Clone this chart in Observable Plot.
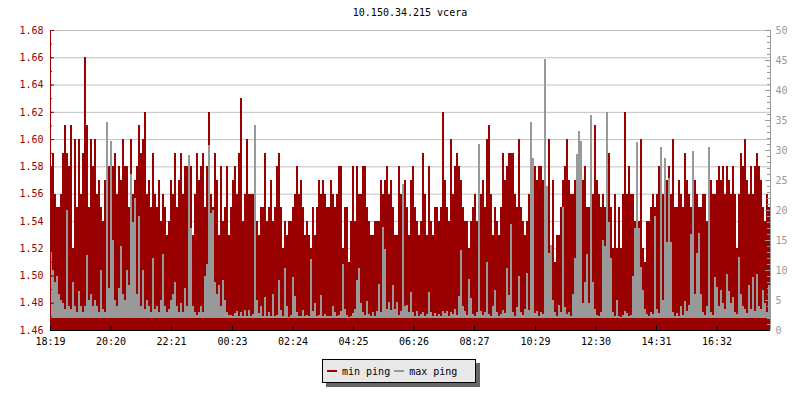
<!DOCTYPE html>
<html>
<head>
<meta charset="utf-8">
<script src="https://cdn.jsdelivr.net/npm/d3@7"></script>
<script src="https://cdn.jsdelivr.net/npm/@observablehq/plot@0.6"></script>
<style>
  body { margin: 0; background: #fff; }
  #wrap { position: relative; width: 800px; height: 400px; background: #fff; overflow: hidden;
          font-family: "DejaVu Sans Mono", monospace; font-size: 10px; color: #000; }
  #title { position: absolute; left: 50px; width: 720px; top: 6px; line-height: 14px; text-align: center; }
  #chart { position: absolute; left: 0; top: 0; }
  #legend { position: absolute; left: 322px; top: 359px; width: 152px; height: 22px; box-sizing: content-box;
            background: #e8e8e8; border: 1px solid #000; box-shadow: 4px 4px 0 #666;
            display: flex; align-items: center; white-space: nowrap; }
  .sw { display: inline-block; width: 10px; height: 2px; margin-left: 4px; margin-right: 5px; }
  .lab { display: inline-block; }
</style>
</head>
<body>
<div id="wrap">
  <div id="chart"></div>
  <div id="title"></div>
  <div id="legend"></div>
</div>
<script>
// ---- text ----
const titleText = "10.150.34.215 vcera";
const seriesNames = ["min ping", "max ping"];
const seriesColors = ["#990000", "#999999"];

// ---- tick labels ----
const timeLabels = ["18:19","20:20","22:21","00:23","02:24","04:25","06:26","08:27","10:29","12:30","14:31","16:32"];
const leftLabels = ["1.46","1.48","1.50","1.52","1.54","1.56","1.58","1.60","1.62","1.64","1.66","1.68"];
const rightLabels = ["0","5","10","15","20","25","30","35","40","45","50"];

// ---- series: min ping (hundredths of ms), one value per 4 minutes from 18:19 ----
const minPing = [
  158,159,156,155,155,156,159,161,159,158, 161,152,160,155,160,156,159,166,161,155, 160,158,160,156,157,155,154,157,153,158,
  156,158,159,156,158,157,160,158,158,155, 160,156,157,158,161,159,160,162,156,157, 155,159,156,155,157,154,156,155,153,154,
  157,156,159,155,157,159,156,158,158,155, 158,153,156,159,157,158,159,155,158,162, 156,155,159,157,153,158,154,155,158,153,
  155,157,158,156,159,163,154,156,160,156, 156,156,155,154,153,155,155,159,154,155, 157,154,155,158,159,155,152,154,153,154,
  154,155,156,158,156,157,155,153,154,153, 152,155,153,155,157,156,157,156,155,155, 157,156,155,156,158,158,152,155,155,151,
  154,158,154,158,156,156,158,158,155,154, 153,153,154,154,154,157,156,157,158,156, 157,155,153,153,158,156,155,157,155,153,
  157,158,155,154,153,154,159,156,153,158, 154,153,155,155,154,155,162,157,155,154, 160,156,158,159,158,157,155,154,154,152,
  154,155,156,154,156,156,157,155,160,161, 156,153,155,154,153,155,159,157,158,159, 159,159,156,155,160,155,154,153,154,156,
  156,158,158,157,158,158,157,156,155,160, 152,157,151,153,153,155,157,158,160,157, 156,156,157,155,154,156,157,158,155,155,
  155,156,161,157,156,155,156,155,157,159, 155,152,156,152,155,152,156,162,156,158, 156,156,154,154,154,160,152,151,154,154,
  155,156,155,156,158,158,156,155,157,158, 156,160,155,155,157,156,155,159,157,156, 155,154,157,156,155,155,156,156,154,152,
  157,156,156,157,158,157,158,156,158,157, 156,158,156,152,156,159,158,160,157,156, 158,156,158,159,158,157,155,154,156,155
];

// ---- series: max ping (ms, right axis) ----
const maxPing = [
  13,10,8,9,6,5,4.5,3.5,20,4, 3.5,8,4,3,6.5,4,3,4,12.5,5, 6,4,5,4,3,10,3.5,3,34.7,7,
  31.5,15,5,4,7,14,6,5,10,7.5, 26,18,22,6,19,4,10,3.5,5,4, 3,12,3.5,4,3,5,12.7,4,3,3.5,
  5,6,8,4,3,4.5,3,7,4,29.2, 17,4,3,2.5,3,4,3,9,11,30.8, 19.5,20,8,6,7.5,4,8.3,5,3,2.5,
  2.5,2.3,2.8,3.2,2.4,3,2.3,3.3,2.4,3.4, 2.4,2.6,34.1,5,2.8,4,2.3,5.5,2.3,3, 2.3,6,2.4,2.5,8.4,3.3,2.4,10.3,4,2.2,
  2.5,8.9,5.6,3,2.3,2.4,3.4,2.3,2.5,2.3, 11.9,3.2,4.5,2.4,2.5,5.9,2.3,2.6,2.3,2.4, 2.3,4,3,2.3,2.5,3.2,11,3.5,2.5,2.2,
  2.3,2.8,3.5,8.3,10.4,4.5,3,2.5,4.8,2.6, 2.3,3,2.4,3.2,7.7,3,17.2,13.5,3.5,4.6, 3.3,7.5,3.5,4.6,2.5,3.2,24.4,4,4.2,3,
  6.3,3,2.4,3.2,2.3,2.6,3,2.3,2.6,6.4, 3,2.4,2.8,2.3,2.6,2.3,3.2,2.8,3.2,2.4, 3,2.6,3.5,2.5,5.6,13.3,4,3.2,2.5,8.5,
  5.3,2.6,2.3,3,31,3.2,2.5,3,11.3,2.6, 2.3,4,6.7,3,2.4,2.6,3.4,2.8,10.3,5.8, 17.7,3,2.4,3.8,9,3,2.5,3.5,9.5,3.3,
  34.7,28.6,2.8,3.2,2.4,3,2.6,45.2,24,12.8, 14.2,5,3,2.4,4.2,3,20.5,3.8,2.6,3, 2.4,6,12,29.3,33.2,31.5,4.5,8,12.7,4.5,
  35.8,8,3.5,2.5,2.3,3,15,14,36.3,18, 12,3,2.4,5,2.3,2.2,2.5,3.2,2.8,2.3, 2.5,9,17,31.3,17,10.5,6.7,3.5,2.6,2.3,
  3,2.6,19,3.5,2.8,30.5,5,28.7,14.7,25.4, 14.7,3,2.3,2.8,2.4,4,2.5,4.8,3.2,4.2, 16,29.8,6,12.8,16.2,6,3,2.5,4,30.5,
  3,2.5,8.9,7.2,4,6.7,4.5,3.5,9.4,6.5, 4.5,5.5,3,2.6,12.2,6,4,3.5,2.8,7.5, 3.5,8.8,3.2,9.3,4,3.5,6.7,4.5,3,7.5
];

// ---- scale settings ----
const leftMin = 1.46, leftMax = 1.68, rightMax = 50, grayBase = 2.0;
const stepMin = 4;
const startMs = Date.UTC(2024, 0, 1, 18, 19);
const endMs = startMs + 1440 * 60000;
const toLeft = v => leftMin + v * (leftMax - leftMin) / rightMax;

const rows = minPing.map((v, i) => ({
  t0: new Date(startMs + i * stepMin * 60000),
  t1: new Date(startMs + (i + 1) * stepMin * 60000),
  min: v / 100,
  max: maxPing[i]
}));

const startMin = 18 * 60 + 19;
const timeTicks = timeLabels.map(s => {
  const [h, m] = s.split(":").map(Number);
  return new Date(startMs + (((h * 60 + m) - startMin + 1440) % 1440) * 60000);
});
const leftTicks = leftLabels.map(Number);
const leftMinor = d3.range(0, 23).map(k => leftMin + k * 0.01);
const rightTicks = rightLabels.map(Number);
const rightMinor = d3.range(0, rightMax + 1);
const W = 800, H = 355, mL = 50, mR = 30, mT = 30, mB = 25;
const innerW = W - mL - mR, innerH = H - mT - mB;

const chart = Plot.plot({
  width: W, height: H,
  marginLeft: mL, marginRight: mR, marginTop: mT, marginBottom: mB,
  style: { fontFamily: "'DejaVu Sans Mono', monospace", fontSize: "10px", background: "white", overflow: "visible" },
  x: { type: "utc", domain: [new Date(startMs), new Date(endMs)], axis: null, label: null },
  y: { domain: [leftMin, leftMax], axis: null, label: null },
  marks: [
    Plot.ruleY(leftTicks, { stroke: "#c0c0c0" }),
    Plot.rect(rows, { x1: "t0", x2: "t1", y1: leftMin, y2: "min", fill: seriesColors[0], inset: 0, shapeRendering: "crispEdges" }),
    Plot.rect(rows, { x1: "t0", x2: "t1", y1: toLeft(grayBase), y2: d => toLeft(d.max), fill: seriesColors[1], inset: 0, shapeRendering: "crispEdges" }),
    // left axis
    Plot.ruleX([new Date(startMs)], { stroke: "#990000" }),
    Plot.tickY(leftMinor, { y: d => d, stroke: "#990000", insetRight: innerW - 2 }),
    Plot.tickY(leftTicks, { y: d => d, stroke: "#990000", insetRight: innerW - 4 }),
    Plot.axisY(leftTicks, { anchor: "left", label: null, tickSize: 0, tickPadding: 7, tickFormat: d => d.toFixed(2), color: "#990000" }),
    // right axis
    Plot.ruleX([new Date(endMs)], { stroke: "#999999" }),
    Plot.tickY(rightMinor, { y: toLeft, stroke: "#999999", insetLeft: innerW - 3 }),
    Plot.tickY(rightTicks, { y: toLeft, stroke: "#999999", insetLeft: innerW - 5 }),
    Plot.axisY(rightTicks.map(toLeft), { anchor: "right", label: null, tickSize: 0, tickPadding: 5,
      tickFormat: d => String(Math.round((d - leftMin) * rightMax / (leftMax - leftMin))), color: "#999999" }),
    // bottom axis
    Plot.ruleY([leftMin], { stroke: "#000" }),
    Plot.tickX(timeTicks, { x: d => d, stroke: "#000", insetTop: innerH - 4 }),
    Plot.axisX(timeTicks, { anchor: "bottom", label: null, tickSize: 0, tickPadding: 7, tickFormat: d3.utcFormat("%H:%M"), color: "#000" })
  ]
});
document.getElementById("chart").appendChild(chart);
document.getElementById("title").textContent = titleText;

const legend = document.getElementById("legend");
seriesNames.forEach((name, i) => {
  const sw = document.createElement("span");
  sw.className = "sw";
  sw.style.background = seriesColors[i];
  const lab = document.createElement("span");
  lab.className = "lab";
  lab.textContent = name;
  legend.appendChild(sw);
  legend.appendChild(lab);
});
</script>
</body>
</html>
